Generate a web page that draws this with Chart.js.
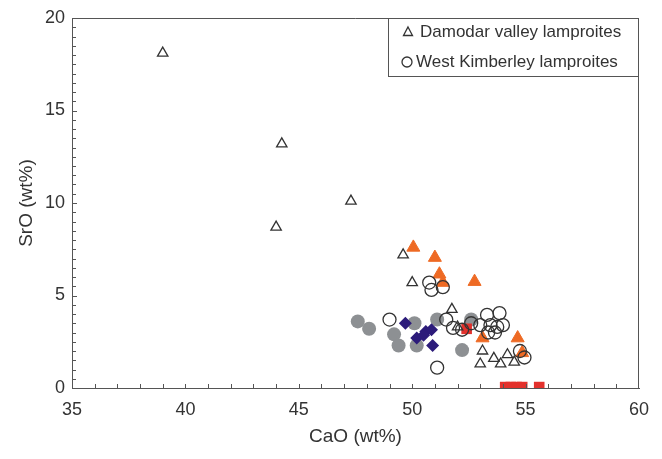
<!DOCTYPE html>
<html>
<head>
<meta charset="utf-8">
<script src="https://cdn.jsdelivr.net/npm/chart.js@4/dist/chart.umd.min.js"></script>
<style>
  html, body { margin: 0; padding: 0; background: #fff; }
  #caixa { width: 662px; height: 459px; }
</style>
</head>
<body>
<div id="caixa"><canvas id="grafico" width="662" height="459"></canvas></div>
<script>
// CaO x SrO - lamproites

// Damodar valley lamproites (triângulos abertos)
const damodarCaO = [39.0, 44.25, 44.0, 47.3, 49.6, 50.0, 51.75, 52.0, 53.1, 53.0, 53.6, 53.9, 54.2, 54.5];
const damodarSrO = [18.1, 13.2, 8.7, 10.1, 7.2, 5.7, 4.25, 3.3, 2.0, 1.3, 1.6, 1.3, 1.8, 1.4];

// West Kimberley lamproites (círculos abertos)
const kimberleyCaO = [49.0, 50.75, 50.85, 51.35, 51.1, 51.5, 51.8, 52.2, 52.6, 53.0, 53.3, 53.85, 53.45, 53.75, 54.0, 53.35, 53.65, 54.75, 54.95];
const kimberleySrO = [3.7, 5.7, 5.3, 5.45, 1.1, 3.7, 3.25, 3.15, 3.5, 3.4, 3.95, 4.05, 3.4, 3.3, 3.4, 3.0, 3.0, 2.0, 1.65];

// Círculos cinza
const cinzaCaO = [47.6, 48.1, 49.2, 49.4, 50.1, 50.2, 51.1, 52.6, 52.2];
const cinzaSrO = [3.6, 3.2, 2.9, 2.3, 3.5, 2.3, 3.7, 3.7, 2.05];

// Losangos azuis
const azulCaO = [49.7, 50.2, 50.6, 50.85, 50.9, 50.5];
const azulSrO = [3.5, 2.7, 3.05, 3.15, 2.3, 2.85];

// Triângulos laranja
const laranjaCaO = [50.05, 51.0, 51.2, 51.35, 52.75, 53.1, 54.65, 54.85];
const laranjaSrO = [7.6, 7.05, 6.15, 5.7, 5.75, 2.7, 2.7, 1.9];

// Quadrados vermelhos
const vermelhoCaO = [52.4, 54.1, 54.35, 54.6, 54.85, 55.6];
const vermelhoSrO = [3.2, 0.05, 0.05, 0.05, 0.05, 0.05];

const ticksCaO = [35, 40, 45, 50, 55, 60];
const ticksSrO = [0, 5, 10, 15, 20];

const legendaTextos = ['Damodar valley lamproites', 'West Kimberley lamproites'];

const FONTE = "'Liberation Sans', Arial, sans-serif";
const COR_TEXTO = '#333';
const COR_EIXO = '#555';

function pontos(xs, ys) {
  return xs.map((x, i) => ({ x, y: ys[i] }));
}

// Marcas de escala para dentro, moldura completa e legenda em caixa
const moldura = {
  id: 'moldura',
  afterDraw(chart) {
    const { ctx, chartArea: a, scales: { x, y } } = chart;
    ctx.save();
    ctx.strokeStyle = COR_EIXO;
    ctx.lineWidth = 1;
    ctx.beginPath();
    ctx.moveTo(a.left, a.top + 0.5);
    ctx.lineTo(a.right - 0.5, a.top + 0.5);
    ctx.lineTo(a.right - 0.5, a.bottom);
    for (let v = x.min + 1; v < x.max; v += 1) {
      const px = Math.round(x.getPixelForValue(v)) + 0.5;
      ctx.moveTo(px, a.bottom);
      ctx.lineTo(px, a.bottom - 4);
    }
    for (let v = y.min + 0.5; v < y.max; v += 0.5) {
      const py = Math.round(y.getPixelForValue(v)) + 0.5;
      ctx.moveTo(a.left, py);
      ctx.lineTo(a.left + (v % 5 === 0 ? 5 : 4), py);
    }
    ctx.stroke();

    // legenda
    const w = 251, h = 59;
    const lx = a.right - w, ly = a.top;
    ctx.fillStyle = '#fff';
    ctx.fillRect(lx, ly, w, h);
    ctx.strokeRect(lx + 0.5, ly + 0.5, w - 1, h - 1);

    ctx.strokeStyle = '#333';
    ctx.lineWidth = 1.3;
    const ty = ly + 14;
    ctx.beginPath();
    ctx.moveTo(lx + 20, ty - 5);
    ctx.lineTo(lx + 24.5, ty + 3.5);
    ctx.lineTo(lx + 15.5, ty + 3.5);
    ctx.closePath();
    ctx.stroke();
    ctx.beginPath();
    ctx.arc(lx + 19, ly + 44, 5, 0, Math.PI * 2);
    ctx.stroke();

    ctx.fillStyle = COR_TEXTO;
    ctx.font = '17px ' + FONTE;
    ctx.textBaseline = 'middle';
    ctx.textAlign = 'left';
    ctx.fillText(legendaTextos[0], lx + 32, ly + 14);
    ctx.fillText(legendaTextos[1], lx + 28, ly + 44);
    ctx.restore();
  }
};

new Chart(document.getElementById('grafico'), {
  type: 'scatter',
  data: {
    datasets: [
      { label: legendaTextos[0], data: pontos(damodarCaO, damodarSrO), pointStyle: 'triangle', radius: 6, borderColor: '#333', borderWidth: 1.3, backgroundColor: 'rgba(0,0,0,0)' },
      { label: legendaTextos[1], data: pontos(kimberleyCaO, kimberleySrO), pointStyle: 'circle', radius: 6.5, borderColor: '#333', borderWidth: 1.3, backgroundColor: 'rgba(0,0,0,0)' },
      { label: 'vermelho', data: pontos(vermelhoCaO, vermelhoSrO), pointStyle: 'rect', radius: 7.5, borderWidth: 0, backgroundColor: '#e3312c' },
      { label: 'laranja', data: pontos(laranjaCaO, laranjaSrO), pointStyle: 'triangle', radius: 7.5, borderWidth: 1, borderColor: '#ee6a24', backgroundColor: '#ee6a24' },
      { label: 'azul', data: pontos(azulCaO, azulSrO), pointStyle: 'rectRot', radius: 6.5, borderWidth: 0, backgroundColor: '#2c1b7a' },
      { label: 'cinza', data: pontos(cinzaCaO, cinzaSrO), pointStyle: 'circle', radius: 7, borderWidth: 0, backgroundColor: '#8d9093' }
    ]
  },
  options: {
    responsive: false,
    animation: false,
    events: [],
    layout: { padding: { top: 18, right: 23, left: 0, bottom: 0 } },
    plugins: { legend: { display: false }, tooltip: { enabled: false } },
    scales: {
      x: {
        type: 'linear', min: 35, max: 60,
        afterBuildTicks: (s) => { s.ticks = ticksCaO.map((v) => ({ value: v })); },
        afterFit: (s) => { s.height = 71; },
        grid: { display: false, drawTicks: false, tickLength: 0 },
        border: { display: true, color: COR_EIXO, width: 1 },
        ticks: { padding: 11, color: COR_TEXTO, font: { family: FONTE, size: 18 }, maxRotation: 0 },
        title: { display: true, text: 'CaO (wt%)', color: COR_TEXTO, font: { family: FONTE, size: 19 }, padding: { top: 0, bottom: 11 } }
      },
      y: {
        type: 'linear', min: 0, max: 20,
        afterBuildTicks: (s) => { s.ticks = ticksSrO.map((v) => ({ value: v })); },
        afterFit: (s) => { s.width = 72; },
        grid: { display: false, drawTicks: false, tickLength: 0 },
        border: { display: true, color: COR_EIXO, width: 1 },
        ticks: { padding: 7, color: COR_TEXTO, font: { family: FONTE, size: 18 } },
        title: { display: true, text: 'SrO (wt%)', color: COR_TEXTO, font: { family: FONTE, size: 19 }, padding: { top: 15, bottom: 0 } }
      }
    }
  },
  plugins: [moldura]
});
</script>
</body>
</html>
